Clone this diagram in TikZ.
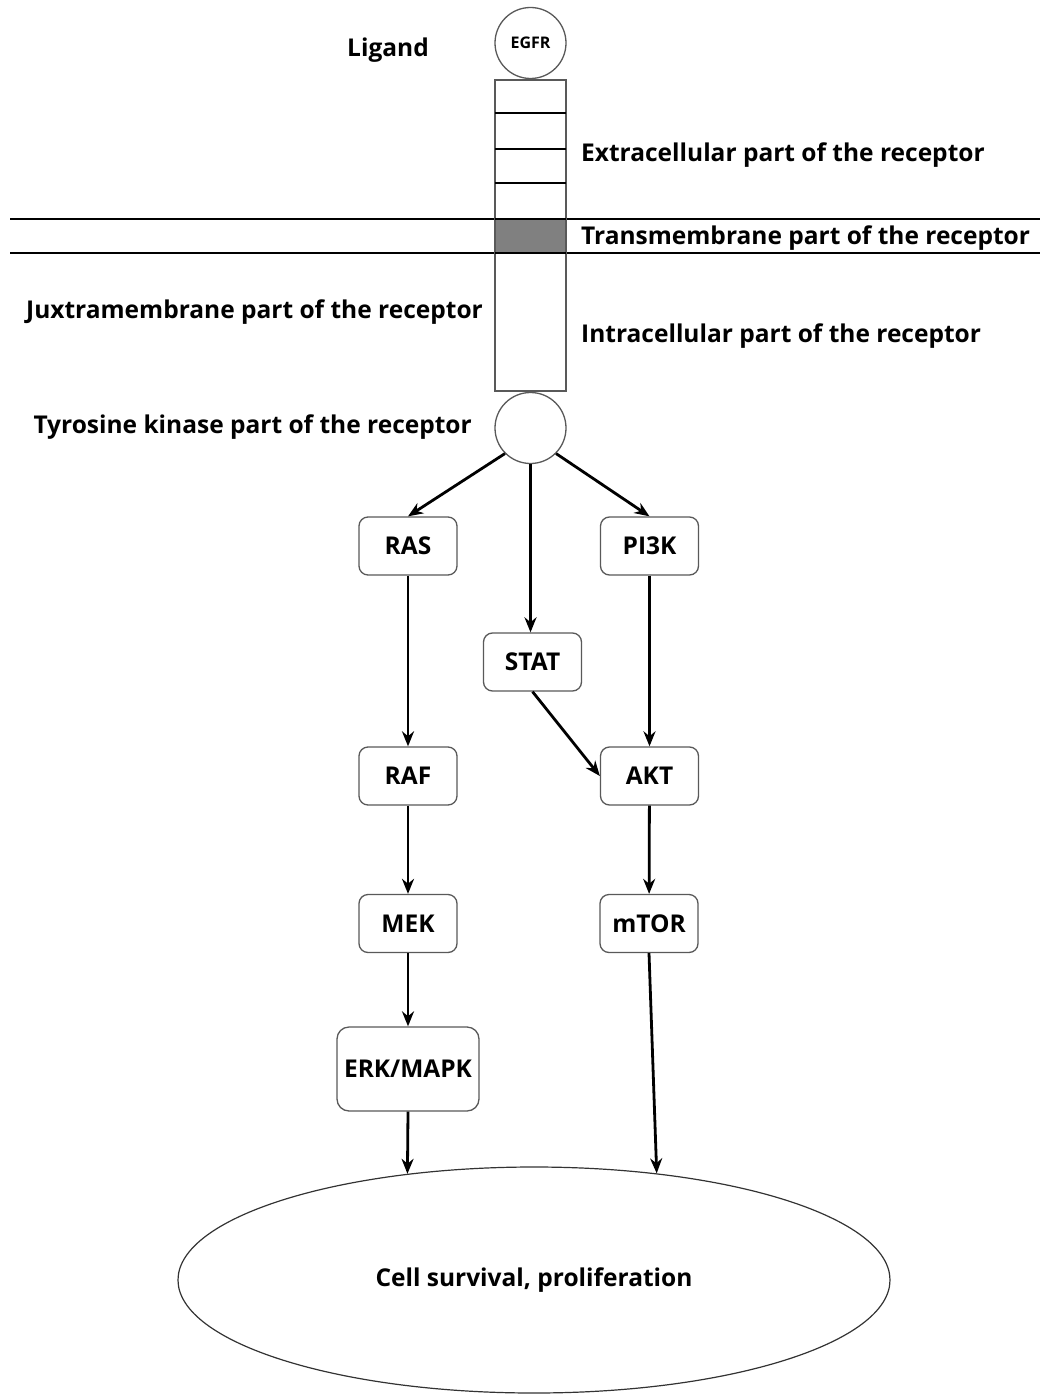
\documentclass[tikz,border=0pt]{standalone}
\usepackage{fontspec}
\setmainfont{Open Sans}
\usetikzlibrary{shapes.geometric,arrows.meta}
\begin{document}
\begin{tikzpicture}[x=1pt,y=-1pt,
  lbl/.style={font=\fontsize{24.5}{29}\selectfont\bfseries, inner sep=0pt},
  pbox/.style={draw=black!65, line width=1.3pt, rounded corners=9pt, fill=white,
     font=\fontsize{24.5}{29}\selectfont\bfseries, minimum width=98pt, minimum height=58pt, inner sep=0pt},
  circ/.style={draw=black!65, line width=1.3pt, circle, minimum size=71pt, inner sep=0pt},
  arr/.style={-{Stealth[length=15pt,width=12pt]}, line width=2.8pt, black},
  seg/.style={draw=black!65, line width=1.3pt}]
\useasboundingbox (0,0) rectangle (1040,1396);
% membrane lines
\draw[line width=1.8pt] (10,219) -- (1040,219);
\draw[line width=1.8pt] (10,253) -- (1040,253);
% receptor column
\draw[seg, fill=white] (495,80) rectangle (566,219);
\draw[seg, fill=black!50] (495,219) rectangle (566,253);
\draw[seg, fill=white] (495,253) rectangle (566,391);
\draw[line width=1.8pt] (495,113) -- (566,113);
\draw[line width=1.8pt] (495,149) -- (566,149);
\draw[line width=1.8pt] (495,183) -- (566,183);
\draw[line width=1.8pt] (495,219) -- (566,219);
\draw[line width=1.8pt] (495,253) -- (566,253);
% circles
\node[circ, fill=white, font=\fontsize{16}{19}\selectfont\bfseries] (egfr) at (530.5,43) {EGFR};
\node[circ, fill=white] (kin) at (530.5,428) {};
% labels
\node[lbl] (ligand) at (388,50) {Ligand};
\node[lbl, anchor=west] (extra) at (581,155) {Extracellular part of the receptor};
\node[lbl, anchor=west] (trans) at (581,238) {Transmembrane part of the receptor};
\node[lbl, anchor=east] (juxta) at (483,312) {Juxtramembrane part of the receptor};
\node[lbl, anchor=west] (intra) at (581,336) {Intracellular part of the receptor};
\node[lbl, anchor=east] (tyro) at (472,427) {Tyrosine kinase part of the receptor};
% pathway boxes
\node[pbox] (ras) at (408,546) {RAS};
\node[pbox] (pi3k) at (649.5,546) {PI3K};
\node[pbox] (stat) at (532.5,662) {STAT};
\node[pbox] (raf) at (408,776) {RAF};
\node[pbox] (akt) at (649.5,776) {AKT};
\node[pbox] (mek) at (408,923.5) {MEK};
\node[pbox] (mtor) at (649,923.5) {mTOR};
\node[pbox, minimum width=142pt, minimum height=84pt, rounded corners=12pt] (erk) at (408,1069) {ERK/MAPK};
\node[draw=black!80, line width=1.2pt, ellipse, minimum width=712pt, minimum height=226pt, inner sep=0pt,
      font=\fontsize{24.5}{29}\selectfont\bfseries] (cell) at (534,1280) {Cell survival, proliferation};
% arrows
\draw[arr] (kin.225) -- (ras.north);
\draw[arr] (kin.-45) -- (pi3k.north);
\draw[arr] (kin.south) -- (kin.south |- stat.north);
\draw[arr] (ras) -- (raf);
\draw[arr] (pi3k) -- (akt);
\draw[arr] (stat.south) -- (akt.west);
\draw[arr] (raf) -- (mek);
\draw[arr] (akt) -- (mtor);
\draw[arr] (mek) -- (erk);
\draw[arr] (erk.south) -- (cell.140.5);
\draw[arr] (mtor.south) -- (cell.41.8);
\end{tikzpicture}
\end{document}
